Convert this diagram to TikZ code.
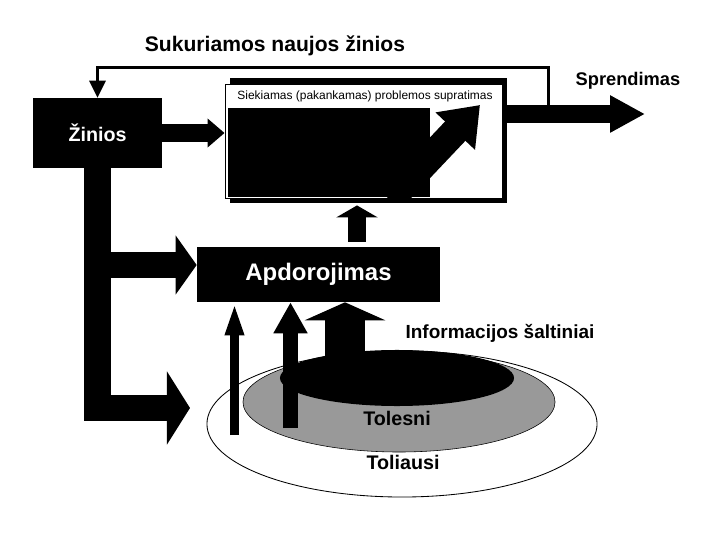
\documentclass[tikz,border=0pt]{standalone}
\usepackage{fontspec}
\setmainfont{Liberation Sans}
\usetikzlibrary{arrows.meta,positioning,shapes.geometric,calc}
\tikzset{
  blokas/.style={fill=black, text=white, font=\bfseries, inner sep=0pt},
  storas/.style n args={3}{draw=black, line width=#1, line join=miter, -{Triangle[length=#2, width=#3]}},
  plona/.style={draw=black, line width=0.75mm, line join=miter, -{Triangle[length=4.25mm, width=4mm]}},
  antraste/.style={font=\fontsize{#1}{#1}\selectfont\bfseries},
}

\begin{document}
\begin{tikzpicture}[x=0.025cm, y=-0.025cm]
\useasboundingbox (0,0) rectangle (716,544);

% blokai
\node[blokas, minimum width=32.25mm, minimum height=17.5mm, font=\fontsize{14}{16}\selectfont\bfseries] (zinios) at (97.5,133) {Žinios};
\node[blokas, minimum width=60.75mm, minimum height=13.75mm, font=\fontsize{17}{20}\selectfont\bfseries] (apdor) at (318.5,274.5) {Apdorojimas};

% supratimo langas
\fill (230,78) rectangle (507,203);
\node[draw, fill=white, line width=0.6pt, minimum width=69.25mm, minimum height=28.5mm, inner sep=0pt] (supr) at (363.5,141) {};
\fill ($(supr.north west)+(3,24)$) rectangle (430,197);
\node[font=\fontsize{8.5}{10}\selectfont] (suprtxt) at (365,96) {Siekiamas (pakankamas) problemos supratimas};
\begin{scope}
  \clip (supr.north west) rectangle (supr.south east);
  \draw[storas={7mm}{9mm}{13mm}] (390,200) -- (480,105);
\end{scope}

% saltiniai
\node[ellipse, draw, fill=white, line width=0.6pt, minimum width=97.5mm, minimum height=36.5mm, inner sep=0pt] (toliausi) at (402,424) {};
\node[ellipse, draw, fill=black!40, minimum width=78mm, minimum height=25mm, inner sep=0pt] (tolesni) at (399,402) {};
\node[ellipse, fill=black, minimum width=58.5mm, minimum height=14mm, inner sep=0pt] (artimi) at (397,378) {};
\node[antraste=14] (tolesnitxt) at (397,418) {Tolesni};
\node[antraste=14] (toliausitxt) at (403,462) {Toliausi};
\node[antraste=13.5] (saltiniai) at (500,333) {Informacijos šaltiniai};

% rodykles
\coordinate (a1) at (234.5,435);
\coordinate (a2) at (290.5,428);
\coordinate (a3) at (345,372);
\draw[storas={2.25mm}{8.25mm}{4.25mm}] (a1) -- (a1 |- apdor.south);
\draw[storas={3.75mm}{7.75mm}{8mm}] (a2) -- (a2 |- apdor.south);
\draw[storas={10mm}{4.5mm}{20mm}] (a3) -- (a3 |- apdor.south);

\coordinate (aukstyn) at ($(supr.south)+(-6.5,7)$);
\draw[storas={4.5mm}{3mm}{10.25mm}, shorten <=1.25mm] (aukstyn |- apdor.north) -- (aukstyn);

\draw[storas={4.5mm}{4.25mm}{7mm}] (zinios.east) -- (zinios.east -| supr.west);
\coordinate (apacia) at (190,408);
\draw[storas={6.5mm}{5.75mm}{18mm}] (zinios.south) |- (apacia);
\coordinate (vidurys) at (0,265);
\draw[storas={6.25mm}{5.25mm}{14.5mm}] (zinios.south |- vidurys) -- (apdor.west |- vidurys);

\coordinate (sprend) at (645,114);
\draw[storas={4.5mm}{8.75mm}{8.75mm}] (supr.east |- sprend) -- (sprend);
\node[antraste=13] (sprtxt) at (628,81) {Sprendimas};

\coordinate (grizt) at (548,106);
\draw[plona] (grizt) -- ++(0,-38) -| (zinios.north);
\node[antraste=15] (naujos) at (275,46) {Sukuriamos naujos žinios};
\end{tikzpicture}
\end{document}
